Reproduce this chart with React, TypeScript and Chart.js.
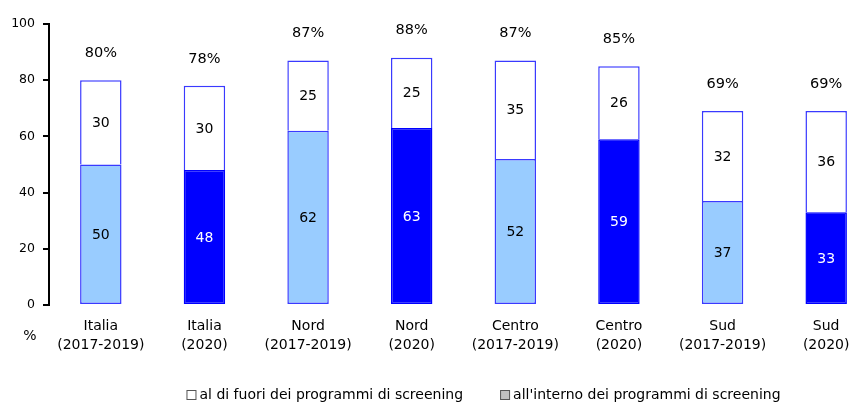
import React, { useEffect, useRef } from "react";
import { Chart, registerables } from "chart.js";

Chart.register(...registerables);

const categories: string[][] = [
  ["Italia", "(2017-2019)"],
  ["Italia", "(2020)"],
  ["Nord", "(2017-2019)"],
  ["Nord", "(2020)"],
  ["Centro", "(2017-2019)"],
  ["Centro", "(2020)"],
  ["Sud", "(2017-2019)"],
  ["Sud", "(2020)"],
];
const insideValues = [50, 48, 62, 63, 52, 59, 37, 33];
const outsideValues = [30, 30, 25, 25, 35, 26, 32, 36];
const totalValues = [80, 78, 87, 88, 87, 85, 69, 69];
const yTicks = [0, 20, 40, 60, 80, 100];
const legendLabels = [
  "al di fuori dei programmi di screening",
  "all'interno dei programmi di screening",
];
const yUnit = "%";

const FONT = "'DejaVu Sans', Verdana, sans-serif";
const LIGHT = "#99CCFF";
const DARK = "#0000FF";
const EDGE = "#3A3AFF";

const labelPlugin = {
  id: "valueLabels",
  afterDatasetsDraw(chart: any) {
    const ctx = chart.ctx as CanvasRenderingContext2D;
    ctx.save();
    ctx.font = `14px ${FONT}`;
    ctx.textAlign = "center";
    ctx.textBaseline = "middle";
    chart.data.datasets.forEach((ds: any, di: number) => {
      const meta = chart.getDatasetMeta(di);
      meta.data.forEach((el: any, i: number) => {
        const bg = Array.isArray(ds.backgroundColor) ? ds.backgroundColor[i] : ds.backgroundColor;
        ctx.fillStyle = bg === DARK ? "#FFFFFF" : "#000000";
        ctx.fillText(String(ds.data[i]), el.x, (el.y + el.base) / 2 + 1);
      });
    });
    const topMeta = chart.getDatasetMeta(1);
    ctx.fillStyle = "#000000";
    ctx.font = `14.5px ${FONT}`;
    topMeta.data.forEach((el: any, i: number) => {
      ctx.fillText(totalValues[i] + "%", el.x, el.y - 27);
    });
    // unit label
    ctx.font = `14px ${FONT}`;
    ctx.fillText(yUnit, 30, chart.chartArea.bottom + 31);
    ctx.restore();
  },
  afterDraw(chart: any) {
    const ctx = chart.ctx as CanvasRenderingContext2D;
    ctx.save();
    ctx.font = `14px ${FONT}`;
    ctx.textBaseline = "middle";
    ctx.textAlign = "left";
    const box = 10;
    const textGap = 3;
    const itemGap = 37;
    const fills = ["#FFFFFF", "#C0C0C0"];
    const widths = legendLabels.map((t) => ctx.measureText(t).width);
    const total = widths.reduce((a, w) => a + box + textGap + w, 0) + itemGap * (legendLabels.length - 1);
    let x = 483.5 - total / 2;
    const cy = 395;
    legendLabels.forEach((t, i) => {
      ctx.fillStyle = fills[i];
      ctx.fillRect(x + 0.5, cy - box / 2 + 0.5, box - 1, box - 1);
      ctx.strokeStyle = "#555555";
      ctx.lineWidth = 1;
      ctx.strokeRect(x + 0.5, cy - box / 2 + 0.5, box - 1, box - 1);
      ctx.fillStyle = "#000000";
      ctx.fillText(t, x + box + textGap, cy);
      x += box + textGap + widths[i] + itemGap;
    });
    ctx.restore();
  },
};

export default function App() {
  const ref = useRef<HTMLCanvasElement | null>(null);
  useEffect(() => {
    if (!ref.current) return;
    Chart.defaults.font.family = FONT;
    const chart = new Chart(ref.current, {
      type: "bar",
      data: {
        labels: categories,
        datasets: [
          {
            label: legendLabels[1],
            data: insideValues,
            backgroundColor: insideValues.map((_, i) => (i % 2 === 0 ? LIGHT : DARK)),
            borderColor: insideValues.map((_, i) => (i % 2 === 0 ? EDGE : DARK)),
            borderWidth: 1.5,
            borderSkipped: false,
            barPercentage: 0.4,
            categoryPercentage: 1,
          },
          {
            label: legendLabels[0],
            data: outsideValues,
            backgroundColor: "#FFFFFF",
            borderColor: EDGE,
            borderWidth: 1.5,
            borderSkipped: "bottom",
            barPercentage: 0.4,
            categoryPercentage: 1,
          },
        ],
      },
      options: {
        responsive: false,
        animation: false,
        layout: { padding: { top: 24, right: 0, bottom: 0, left: 0 } },
        plugins: {
          legend: { display: false },
          tooltip: { enabled: false },
        },
        scales: {
          x: {
            stacked: true,
            grid: { display: false, drawTicks: false },
            border: { display: false },
            ticks: {
              color: "#000000",
              font: { size: 14, lineHeight: 1.35 },
              padding: 12,
              maxRotation: 0,
              autoSkip: false,
            },
            afterFit: (scale: any) => {
              scale.height = 98;
            },
          },
          y: {
            stacked: true,
            min: 0,
            max: 100,
            afterBuildTicks: (scale: any) => {
              scale.ticks = yTicks.map((v) => ({ value: v }));
            },
            grid: {
              display: true,
              drawOnChartArea: false,
              drawTicks: true,
              tickLength: 6,
              color: "#000000",
              lineWidth: 2,
            },
            border: { display: true, color: "#000000", width: 2 },
            ticks: {
              color: "#000000",
              font: { size: 12.5 },
              padding: 8,
            },
            afterFit: (scale: any) => {
              scale.width = 49;
            },
          },
        },
      },
      plugins: [labelPlugin],
    });
    return () => chart.destroy();
  }, []);
  return (
    <div
      style={{
        position: "fixed",
        left: 0,
        top: 0,
        width: 853,
        height: 403,
        overflow: "hidden",
        background: "#FFFFFF",
      }}
    >
      <canvas ref={ref} width={878} height={403} style={{ width: 878, height: 403, display: "block" }} />
    </div>
  );
}
